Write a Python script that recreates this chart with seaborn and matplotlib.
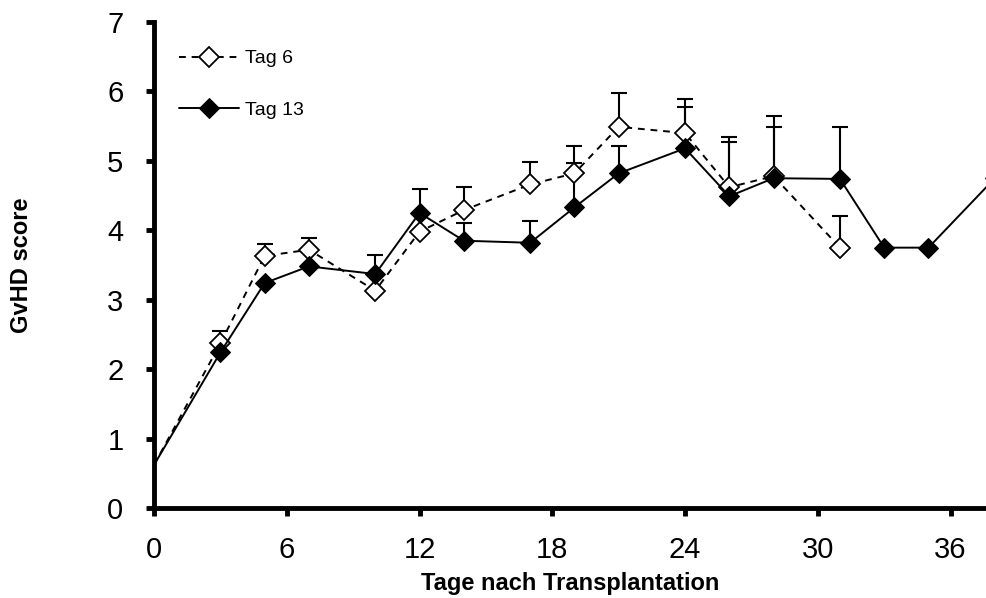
import matplotlib
matplotlib.use("Agg")
import matplotlib.pyplot as plt
import seaborn as sns
import numpy as np
import pandas as pd

# Data
days6 = [0, 3, 5, 7, 10, 12, 14, 17, 19, 21, 24, 26, 28, 31]
tag6 = [0.62, 2.37, 3.63, 3.72, 3.13, 3.98, 4.29, 4.66, 4.82, 5.49, 5.40, 4.62, 4.78, 3.75]
tag6_up = [None, 2.55, 3.80, 3.89, None, None, 4.63, 4.99, 5.22, 5.98, 5.89, 5.34, 5.64, 4.21]

days13 = [0, 3, 5, 7, 10, 12, 14, 17, 19, 21, 24, 26, 28, 31, 33, 35, 38]
tag13 = [0.62, 2.24, 3.24, 3.48, 3.37, 4.25, 3.85, 3.82, 4.33, 4.82, 5.18, 4.49, 4.75, 4.74, 3.75, 3.75, 4.75]
tag13_up = [None, None, None, None, 3.64, 4.60, 4.11, 4.13, 4.97, 5.22, 5.77, 5.27, 5.49, 5.49, None, None, None]

xticks = [0, 6, 12, 18, 24, 30, 36]
yticks = [0, 1, 2, 3, 4, 5, 6, 7]

sns.set_theme(style="white")
plt.rcParams['font.family'] = ['Liberation Sans', 'DejaVu Sans']
plt.rcParams['text.color'] = 'black'
plt.rcParams['axes.labelcolor'] = 'black'

fig = plt.figure(figsize=(9.86, 5.98), dpi=100)
ax = fig.add_axes([154/986, 1-508/598, 1-154/986, (508-22)/598])

df6 = pd.DataFrame({"day": days6, "score": tag6})
df13 = pd.DataFrame({"day": days13, "score": tag13})

def draw_err(days, means, ups):
    xs, ms, lo, hi = [], [], [], []
    for d, m, u in zip(days, means, ups):
        if u is not None:
            xs.append(d); ms.append(m); lo.append(0); hi.append(u - m)
    ax.errorbar(xs, ms, yerr=[lo, hi], fmt='none', ecolor='black',
                elinewidth=1.5, capsize=5.5, capthick=1.5, zorder=2, clip_on=False)

draw_err(days6, tag6, tag6_up)
draw_err(days13, tag13, tag13_up)

MS = 10.5
sns.lineplot(data=df6, x="day", y="score", ax=ax, color='black', linestyle=(0, (3.5, 3)),
             linewidth=1.4, marker='D', markersize=MS, markerfacecolor='white',
             markeredgecolor='black', markeredgewidth=1.3, markevery=list(range(1, len(days6))),
             label='Tag 6', zorder=3)
sns.lineplot(data=df13, x="day", y="score", ax=ax, color='black', linestyle='-',
             linewidth=1.4, marker='D', markersize=MS, markerfacecolor='black',
             markeredgecolor='black', markevery=list(range(1, len(days13))),
             label='Tag 13', zorder=4)

ax.set_xlim(0, 37.6)
ax.set_ylim(0, 7)
ax.set_xticks(xticks)
ax.set_yticks(yticks)
ax.tick_params(axis='both', which='major', left=True, bottom=True, labelsize=21,
               length=6, width=3.5, direction='out', color='black', labelcolor='black')
ax.tick_params(axis='x', pad=14)
ax.tick_params(axis='y', pad=16)
for s in ['top', 'right']:
    ax.spines[s].set_visible(False)
for s in ['left', 'bottom']:
    ax.spines[s].set_linewidth(3.5)
    ax.spines[s].set_color('black')

ax.set_xlabel('Tage nach Transplantation', fontsize=17, fontweight='bold', labelpad=6, color='black')
ax.set_ylabel('GvHD score', fontsize=17, fontweight='bold', color='black')
ax.yaxis.set_label_coords(-(154 - 33) / 832, 0.5)

leg = ax.legend(loc='upper left', bbox_to_anchor=(17/832, 1 - 20/486), frameon=False, fontsize=14,
                handlelength=3.1, labelspacing=1.75, handletextpad=0.3, borderaxespad=0,
                labelcolor='black')

fig.savefig('out.png', dpi=100)
